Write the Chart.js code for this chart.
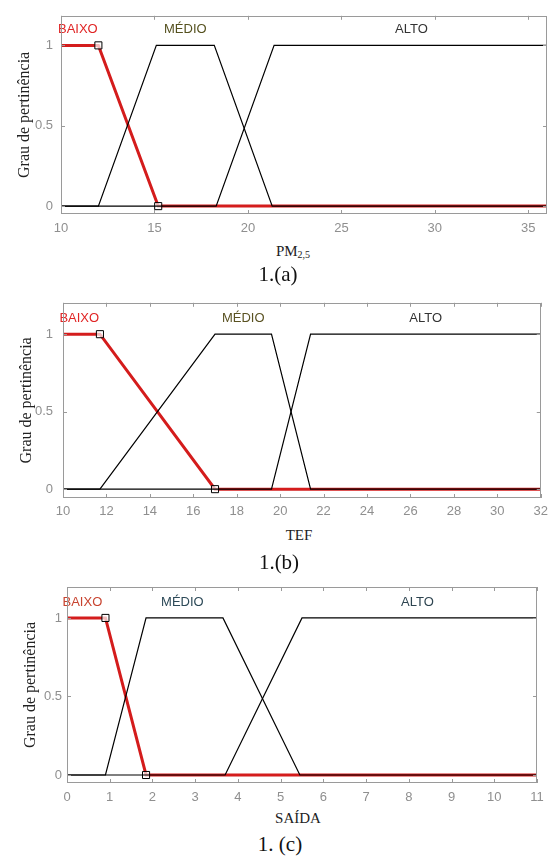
<!DOCTYPE html>
<html>
<head>
<meta charset="utf-8">
<script src="https://cdn.jsdelivr.net/npm/chart.js@4/dist/chart.umd.min.js"></script>
<style>
  html, body { margin: 0; padding: 0; background: #fff; }
  body { width: 554px; height: 856px; position: relative; overflow: hidden; }
  .panel { position: absolute; left: 0; width: 554px; }
  .xt { position: absolute; font-family: "Liberation Serif", "Times New Roman", serif; font-size: 15px; color: #222; transform: translate(-50%, -50%); white-space: nowrap; }
  .xt sub { font-size: 10px; vertical-align: -2px; }
  .cap { position: absolute; font-family: "Liberation Serif", "Times New Roman", serif; font-size: 21px; color: #111; transform: translate(-50%, -50%); white-space: nowrap; }
</style>
</head>
<body>
<div class="panel" style="top:0px;height:240px"><canvas id="ca" width="554" height="240"></canvas></div>
<div class="panel" style="top:285px;height:240px"><canvas id="cb" width="554" height="240"></canvas></div>
<div class="panel" style="top:573px;height:235px"><canvas id="cc" width="554" height="235"></canvas></div>

<div class="xt" style="left:293px;top:251px">PM<sub>2,5</sub></div>
<div class="cap" style="left:278px;top:274px">1.(a)</div>
<div class="xt" style="left:299px;top:535px">TEF</div>
<div class="cap" style="left:279px;top:562px">1.(b)</div>
<div class="xt" style="left:298px;top:818px">SAÍDA</div>
<div class="cap" style="left:280px;top:844px">1. (c)</div>

<script>
// ---------- Panel (a): PM2,5 ----------
const xRangeA = [10, 36];
const xTicksA = [10, 15, 20, 25, 30, 35];
const baixoXA = [10, 12, 15.2, 36];
const baixoYA = [1, 1, 0, 0];
const medioXA = [10, 12, 15.1, 18.2, 21.3, 36];
const medioYA = [0, 0, 1, 1, 0, 0];
const altoXA  = [10, 18.3, 21.4, 36];
const altoYA  = [0, 0, 1, 1];
const labelXA = [10.9, 16.65, 28.75];

// ---------- Panel (b): TEF ----------
const xRangeB = [10, 32];
const xTicksB = [10, 12, 14, 16, 18, 20, 22, 24, 26, 28, 30, 32];
const baixoXB = [10, 11.7, 17, 32];
const baixoYB = [1, 1, 0, 0];
const medioXB = [10, 11.7, 17, 19.6, 21.4, 32];
const medioYB = [0, 0, 1, 1, 0, 0];
const altoXB  = [10, 19.6, 21.4, 32];
const altoYB  = [0, 0, 1, 1];
const labelXB = [10.75, 18.3, 26.7];

// ---------- Panel (c): SAÍDA ----------
const xRangeC = [0, 11];
const xTicksC = [0, 1, 2, 3, 4, 5, 6, 7, 8, 9, 10, 11];
const baixoXC = [0, 0.9, 1.85, 11];
const baixoYC = [1, 1, 0, 0];
const medioXC = [0, 0.9, 1.85, 3.65, 5.45, 11];
const medioYC = [0, 0, 1, 1, 0, 0];
const altoXC  = [0, 3.7, 5.5, 11];
const altoYC  = [0, 0, 1, 1];
const labelXC = [0.36, 2.7, 8.2];

// shared
const mfNames = ['BAIXO', 'MÉDIO', 'ALTO'];
const yTicks = [0, 0.5, 1];
const labelY = 1.1;

function pts(xs, ys) { return xs.map((x, i) => ({ x: x, y: ys[i] })); }

const framePlugin = {
  id: 'frame',
  afterDatasetsDraw(chart) {
    const { ctx, chartArea: a, scales: { x, y } } = chart;
    const o = chart.options.plugins.frame;
    ctx.save();
    ctx.font = '13px "Liberation Sans", Arial, sans-serif';
    ctx.textAlign = 'center';
    ctx.textBaseline = 'middle';
    o.names.forEach((n, i) => {
      ctx.fillStyle = o.colors[i];
      ctx.fillText(n, x.getPixelForValue(o.lx[i]), y.getPixelForValue(o.ly));
    });
    ctx.strokeStyle = '#9a9a9a';
    ctx.lineWidth = 1;
    ctx.strokeRect(Math.round(a.left) + 0.5, Math.round(a.top) + 0.5, Math.round(a.width) - 1, Math.round(a.height) - 1);
    ctx.beginPath();
    const L = 4;
    x.ticks.forEach(t => {
      const px = Math.round(x.getPixelForValue(t.value)) + 0.5;
      ctx.moveTo(px, a.top); ctx.lineTo(px, a.top + L);
      ctx.moveTo(px, a.bottom); ctx.lineTo(px, a.bottom - L);
    });
    y.ticks.forEach(t => {
      const py = Math.round(y.getPixelForValue(t.value)) + 0.5;
      ctx.moveTo(a.left, py); ctx.lineTo(a.left + L, py);
      ctx.moveTo(a.right, py); ctx.lineTo(a.right - L, py);
    });
    ctx.stroke();
    ctx.restore();
  }
};

function makeChart(id, cfg) {
  const ds = [
    {
      data: pts(cfg.bx, cfg.by), borderColor: '#d41c1c', borderWidth: 3,
      pointRadius: [0, 5, 5, 0], pointStyle: 'rect', pointBorderColor: '#000',
      pointBackgroundColor: 'rgba(255,255,255,0.7)', pointBorderWidth: 1, order: 3
    },
    { data: pts(cfg.mx, cfg.my), borderColor: '#000', borderWidth: 1.2, pointRadius: 0, order: 2 },
    { data: pts(cfg.ax, cfg.ay), borderColor: '#000', borderWidth: 1.2, pointRadius: 0, order: 1 }
  ];
  return new Chart(document.getElementById(id), {
    type: 'scatter',
    data: { datasets: ds.map(d => Object.assign({ showLine: true, tension: 0, fill: false }, d)) },
    options: {
      responsive: false,
      animation: false,
      events: [],
      layout: { padding: { top: cfg.padTop, right: cfg.padRight, left: 0, bottom: 0 } },
      plugins: {
        legend: { display: false },
        tooltip: { enabled: false },
        frame: { names: mfNames, colors: cfg.labelColors, lx: cfg.lx, ly: labelY }
      },
      scales: {
        x: {
          type: 'linear', min: cfg.xr[0], max: cfg.xr[1],
          afterBuildTicks: s => { s.ticks = cfg.xt.map(v => ({ value: v })); },
          afterFit: s => { s.height = cfg.xH; },
          grid: { display: false, drawTicks: false },
          border: { display: false },
          ticks: { padding: cfg.xPad, color: '#8f8f8f', font: { family: '"Liberation Sans", Arial, sans-serif', size: 13 }, maxRotation: 0, autoSkip: false }
        },
        y: {
          type: 'linear', min: cfg.yr[0], max: cfg.yr[1],
          afterBuildTicks: s => { s.ticks = yTicks.map(v => ({ value: v })); },
          afterFit: s => { s.width = cfg.yW; },
          grid: { display: false, drawTicks: false },
          border: { display: false },
          ticks: { padding: cfg.yPad, color: '#8f8f8f', font: { family: '"Liberation Sans", Arial, sans-serif', size: 13 }, callback: v => String(v) },
          title: {
            display: true, text: 'Grau de pertinência', color: '#222',
            font: { family: '"Liberation Serif", "Times New Roman", serif', size: 16 },
            padding: { top: cfg.titlePad, bottom: 0 }
          }
        }
      }
    },
    plugins: [framePlugin]
  });
}

makeChart('ca', {
  bx: baixoXA, by: baixoYA, mx: medioXA, my: medioYA, ax: altoXA, ay: altoYA,
  xr: xRangeA, xt: xTicksA, yr: [-0.049, 1.184], lx: labelXA,
  labelColors: ['#e02424', '#55511f', '#333333'],
  padTop: 13, padRight: 7, xH: 26, yW: 61, xPad: 7, yPad: 8, titlePad: 15
});
makeChart('cb', {
  bx: baixoXB, by: baixoYB, mx: medioXB, my: medioYB, ax: altoXB, ay: altoYB,
  xr: xRangeB, xt: xTicksB, yr: [-0.057, 1.2025], lx: labelXB,
  labelColors: ['#e02424', '#5a5222', '#333333'],
  padTop: 14, padRight: 9, xH: 27, yW: 63, xPad: 6, yPad: 10, titlePad: 17
});
makeChart('cc', {
  bx: baixoXC, by: baixoYC, mx: medioXC, my: medioYC, ax: altoXC, ay: altoYC,
  xr: xRangeC, xt: xTicksC, yr: [-0.051, 1.197], lx: labelXC,
  labelColors: ['#c8432f', '#2d4a58', '#2d4450'],
  padTop: 14, padRight: 17, xH: 25, yW: 67, xPad: 7, yPad: 5, titlePad: 21
});
</script>
</body>
</html>
